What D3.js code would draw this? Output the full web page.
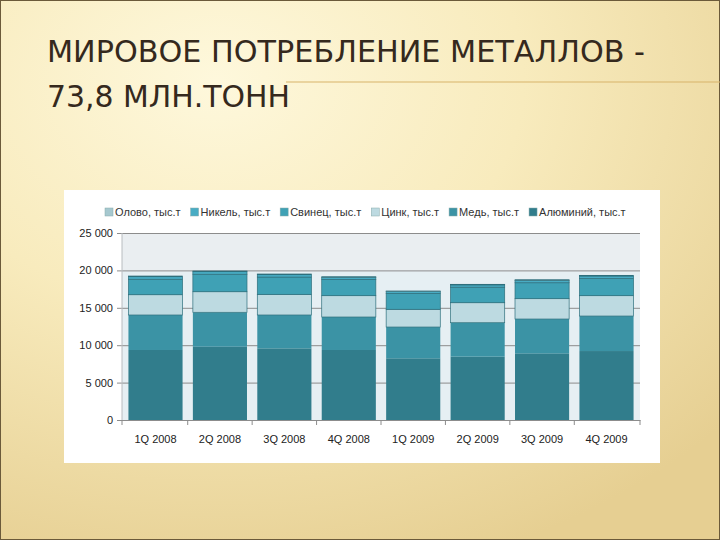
<!DOCTYPE html>
<html>
<head>
<meta charset="utf-8">
<script src="https://cdn.jsdelivr.net/npm/d3@7"></script>
<style>
  body { margin: 0; background: #fff; }
  svg { display: block; }
</style>
</head>
<body>
<svg id="slide" width="720" height="540"></svg>
<script>
// quarters on the x axis
const quarters = ["1Q 2008", "2Q 2008", "3Q 2008", "4Q 2008", "1Q 2009", "2Q 2009", "3Q 2009", "4Q 2009"];

// consumption by metal, thousand tonnes
const aluminium = [9360, 9800, 9580, 9360, 8250, 8470, 8910, 9220];
const copper    = [4680, 4600, 4460, 4410, 4180, 4540, 4590, 4680];
const zinc      = [2710, 2750, 2760, 2850, 2370, 2670, 2720, 2720];
const lead      = [2070, 2340, 2310, 2170, 2120, 2080, 2130, 2290];
const nickel    = [340, 340, 320, 290, 260, 300, 320, 340];
const tin       = [90, 90, 90, 80, 70, 80, 90, 90];

// legend labels, in legend order
const legendLabels = ["Олово, тыс.т", "Никель, тыс.т", "Свинец, тыс.т", "Цинк, тыс.т", "Медь, тыс.т", "Алюминий, тыс.т"];
const yTicks = [0, 5000, 10000, 15000, 20000, 25000];

const svg = d3.select("#slide");

// slide background
const defs = svg.append("defs");
const bg = defs.append("radialGradient")
    .attr("id", "bgGrad")
    .attr("cx", "0.3").attr("cy", "0.15").attr("r", "0.95");
bg.append("stop").attr("offset", "0%").attr("stop-color", "#fef8dc");
bg.append("stop").attr("offset", "45%").attr("stop-color", "#f8ebbd");
bg.append("stop").attr("offset", "100%").attr("stop-color", "#e6cf92");

svg.append("rect")
    .attr("width", 720).attr("height", 540)
    .style("fill", "url(#bgGrad)");
svg.append("rect")
    .attr("x", 0.5).attr("y", 0.5).attr("width", 719).attr("height", 539)
    .style("fill", "none").style("stroke", "#6b5a3a").style("stroke-width", 1);

// gold rule behind the title
svg.append("line")
    .attr("x1", 286).attr("x2", 720).attr("y1", 82).attr("y2", 82)
    .style("stroke", "#d8b46a").style("stroke-width", 1.2);

// title (stretched to the width it has on the slide)
const titleFont = "'Liberation Sans Narrow', 'DejaVu Sans Condensed', 'Liberation Sans', sans-serif";
svg.append("text")
    .attr("x", 47).attr("y", 62)
    .attr("textLength", 598).attr("lengthAdjust", "spacingAndGlyphs")
    .style("font-family", titleFont)
    .style("font-size", "31px")
    .style("fill", "#35291d")
    .text("МИРОВОЕ ПОТРЕБЛЕНИЕ МЕТАЛЛОВ -");
svg.append("text")
    .attr("x", 47).attr("y", 107)
    .attr("textLength", 243).attr("lengthAdjust", "spacingAndGlyphs")
    .style("font-family", titleFont)
    .style("font-size", "31px")
    .style("fill", "#35291d")
    .text("73,8 МЛН.ТОНН");

// chart box
svg.append("rect")
    .attr("x", 64).attr("y", 190).attr("width", 596).attr("height", 273)
    .style("fill", "#ffffff");

const plot = {left: 122, right: 640, top: 233, bottom: 420};

const x = d3.scaleBand()
    .domain(quarters)
    .range([plot.left, plot.right])
    .paddingInner(0.16)
    .paddingOuter(0.1);

const y = d3.scaleLinear()
    .domain([0, 25000])
    .range([plot.bottom, plot.top]);

// plot area background
svg.append("rect")
    .attr("x", plot.left).attr("y", plot.top)
    .attr("width", plot.right - plot.left).attr("height", plot.bottom - plot.top)
    .style("fill", "#e6eff3");
svg.append("rect")
    .attr("x", plot.left).attr("y", y(25000))
    .attr("width", plot.right - plot.left).attr("height", y(20000) - y(25000))
    .style("fill", "#eaeef1");

const labelFont = "'Liberation Sans', Arial, sans-serif";

// gridlines + y axis labels
const yAxis = d3.axisLeft(y)
    .tickValues(yTicks)
    .tickSize(-(plot.right - plot.left) - 5)
    .tickFormat(d => d3.format(",")(d).replace(/,/g, " "));
const yg = svg.append("g")
    .attr("class", "yAxis")
    .attr("transform", `translate(${plot.left - 5},0)`)
    .call(yAxis);
yg.select(".domain").remove();
yg.selectAll(".tick line").style("stroke", "#8c8c8c").style("stroke-width", 1);
yg.selectAll(".tick text")
    .attr("x", -4)
    .style("font-family", labelFont)
    .style("font-size", "11px")
    .style("fill", "#222");

// vertical axis line
svg.append("line")
    .attr("x1", plot.left).attr("x2", plot.left)
    .attr("y1", plot.top).attr("y2", plot.bottom)
    .style("stroke", "#b8bcc0");

// stacked bars
const series = [
    {key: "al", values: aluminium, color: "#317d8c", stroke: "none"},
    {key: "cu", values: copper, color: "#3b93a5", stroke: "none"},
    {key: "zn", values: zinc, color: "#bddae1", stroke: "#2e6f7c"},
    {key: "pb", values: lead, color: "#3fa1b5", stroke: "#2e6f7c"},
    {key: "ni", values: nickel, color: "#48acc4", stroke: "#2e6f7c"},
    {key: "sn", values: tin, color: "#a6c8cf", stroke: "#2e6f7c"}
];

const table = quarters.map((q, i) => {
    const row = {quarter: q};
    series.forEach(s => { row[s.key] = s.values[i]; });
    return row;
});

const stack = d3.stack().keys(series.map(s => s.key));
const stacked = stack(table);

const barsG = svg.append("g").attr("id", "bars");
stacked.forEach((layer, li) => {
    barsG.selectAll("rect.s" + li)
        .data(layer)
        .join("rect")
        .attr("class", "s" + li)
        .attr("x", d => x(d.data.quarter))
        .attr("y", d => y(d[1]))
        .attr("width", x.bandwidth())
        .attr("height", d => y(d[0]) - y(d[1]))
        .style("fill", series[li].color)
        .style("stroke", series[li].stroke)
        .style("stroke-width", 0.7);
});

// x axis
const xAxis = d3.axisBottom(x).tickSize(0).tickPadding(15);
const xg = svg.append("g")
    .attr("transform", `translate(0,${plot.bottom})`)
    .call(xAxis);
xg.select(".domain").style("stroke", "#8c8c8c");
xg.selectAll(".tick text")
    .style("font-family", labelFont)
    .style("font-size", "11px")
    .style("fill", "#222");

// category separator ticks
const sepPos = quarters.slice(1).map(q => x(q) - x.step() * x.paddingInner() / 2);
sepPos.push(plot.left, plot.right);
svg.selectAll("line.sep")
    .data(sepPos)
    .join("line")
    .attr("class", "sep")
    .attr("x1", d => d).attr("x2", d => d)
    .attr("y1", plot.bottom).attr("y2", plot.bottom + 5)
    .style("stroke", "#8c8c8c");

// legend
const legendColors = series.slice().reverse().map(s => s.color);
const legend = svg.append("g").attr("id", "legend");
let lx = 105;
legendLabels.forEach((lab, i) => {
    legend.append("rect")
        .attr("x", lx).attr("y", 208)
        .attr("width", 8).attr("height", 8)
        .style("fill", legendColors[i])
        .style("stroke", "#8aa")
        .style("stroke-width", 0.5);
    const t = legend.append("text")
        .attr("x", lx + 10).attr("y", 216)
        .style("font-family", labelFont)
        .style("font-size", "11px")
        .style("fill", "#333")
        .text(lab);
    lx += 10 + t.node().getComputedTextLength() + 10;
});
</script>
</body>
</html>
